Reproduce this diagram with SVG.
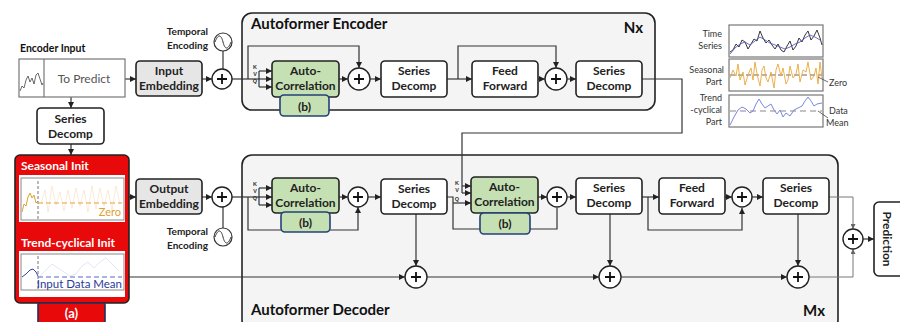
<svg xmlns="http://www.w3.org/2000/svg" width="900" height="322" viewBox="0 0 900 322">
<defs>
<marker id="ah" viewBox="0 0 6 6" refX="6" refY="3" markerWidth="6" markerHeight="6" markerUnits="userSpaceOnUse" orient="auto"><path d="M0,0 L6,3 L0,6 z" fill="#222"/></marker>
<marker id="ahg" viewBox="0 0 6 6" refX="6" refY="3" markerWidth="5" markerHeight="5" markerUnits="userSpaceOnUse" orient="auto"><path d="M0,0 L6,3 L0,6 z" fill="#666"/></marker>
<style>
.lbl{font-family:Lato,"Liberation Sans",sans-serif;font-weight:bold;font-size:12px;fill:#222;text-anchor:middle}
.box{fill:#fff;stroke:#222;stroke-width:1.6}
.emb{fill:#e6e6e6;stroke:#222;stroke-width:1.6}
.ac{fill:#c5e0b3;stroke:#222;stroke-width:1.6}
.bb{fill:#c5e0b3;stroke:#24407a;stroke-width:1.6}
.blk{fill:#f4f4f4;stroke:#222;stroke-width:1.6}
.ln{fill:none;stroke:#333;stroke-width:1.2}
.la{fill:none;stroke:#333;stroke-width:1.2;marker-end:url(#ah)}
.lg{fill:none;stroke:#777;stroke-width:1;marker-end:url(#ahg)}
.pl{fill:#fff;stroke:#222;stroke-width:1.4}
.ps{fill:none;stroke:#111;stroke-width:1.8}
.kvq{font-family:"Liberation Sans",sans-serif;font-weight:bold;font-size:5.5px;fill:#333;text-anchor:middle}
.te{font-family:Lato,"Liberation Sans",sans-serif;font-weight:bold;font-size:10px;fill:#222;text-anchor:end}
.ttl{font-family:Lato,"Liberation Sans",sans-serif;font-weight:bold;font-size:15px;fill:#111}
.leg{font-family:Lato,"Liberation Sans",sans-serif;font-size:9px;fill:#333;text-anchor:end}
.pan{fill:#fff;stroke:#777;stroke-width:1.2}
</style>
</defs>

<!-- Encoder/decoder blocks -->
<g id="encoder-block">
<rect class="blk" x="242" y="13" width="413" height="97" rx="10"/>
<text class="ttl" x="251" y="29">Autoformer Encoder</text>
<text class="ttl" x="643" y="33" text-anchor="end" font-size="13">Nx</text>
</g>
<g id="decoder-block">
<rect class="blk" x="242" y="155" width="596" height="175" rx="10"/>
<text class="ttl" x="251" y="315">Autoformer Decoder</text>
<text class="ttl" x="825" y="316" text-anchor="end" font-size="13">Mx</text>
</g>

<!-- connectors -->
<g id="connectors">
<!-- encoder input -->
<path class="la" d="M125,79 H136"/>
<path class="la" d="M202,79 H212"/>
<path class="ln" d="M223,51 V69"/>
<path class="la" d="M71,97 V108"/>
<path class="la" d="M71,144 V155"/>
<!-- encoder KVQ -->
<path class="ln" d="M232,79 H259"/>
<path class="ln" d="M259,71 V87"/>
<path class="la" d="M259,71 H272"/>
<path class="la" d="M259,79 H272"/>
<path class="la" d="M259,87 H272"/>
<path class="la" d="M248,79 V46 H359 V68"/>
<path class="la" d="M339,79 H348"/>
<path class="la" d="M370,79 H381"/>
<path class="la" d="M447,79 H472"/>
<path class="la" d="M458,79 V46 H556 V68"/>
<path class="la" d="M538,79 H545"/>
<path class="la" d="M567,79 H576"/>
<!-- encoder to decoder -->
<path class="ln" d="M642,79 H682 V133 H462 V193"/>
<path class="la" d="M462,186 H471"/>
<path class="la" d="M462,193 H471"/>
<!-- decoder input -->
<path class="la" d="M129,197 H136"/>
<path class="la" d="M202,197 H212"/>
<path class="ln" d="M223,207 V228"/>
<path class="ln" d="M232,197 H259"/>
<path class="ln" d="M259,188 V205"/>
<path class="la" d="M259,188 H272"/>
<path class="la" d="M259,197 H272"/>
<path class="la" d="M259,205 H272"/>
<path class="la" d="M248,197 V230 H358 V207"/>
<path class="la" d="M339,197 H348"/>
<path class="la" d="M368,197 H381"/>
<path class="ln" d="M447,197 H453 V229 H557 V208"/>
<path class="la" d="M453,203 H471"/>
<path class="la" d="M538,197 H547"/>
<path class="la" d="M567,197 H576"/>
<path class="la" d="M642,197 H659"/>
<path class="la" d="M648,197 V230 H742 V208"/>
<path class="la" d="M725,197 H732"/>
<path class="la" d="M752,197 H763"/>
<!-- trend path -->
<path class="la" d="M416,214 V266"/>
<path class="la" d="M610,214 V266"/>
<path class="la" d="M798,214 V266"/>
<path class="la" d="M125,277 H405"/>
<path class="la" d="M427,277 H599"/>
<path class="la" d="M621,277 H787"/>
<path class="lg" d="M809,277 H853 V249"/>
<path class="lg" d="M829,197 H853 V229"/>
<path class="la" d="M863,239 H874"/>
</g>

<!-- Encoder input -->
<g id="encoder-input">
<text x="20" y="52" font-family="Lato,'Liberation Sans',sans-serif" font-weight="bold" font-size="10.5" fill="#111">Encoder Input</text>
<rect x="19" y="59" width="106" height="38" fill="#fff" stroke="#777" stroke-width="1.2"/>
<line x1="44" y1="59" x2="44" y2="97" stroke="#777" stroke-width="1.2"/>
<polyline points="20,91 22,86 24,88 26,80 28,76 30,82 32,78 34,84 36,75 38,73 40,79 42,85 43,83" fill="none" stroke="#444" stroke-width="0.8"/>
<text x="84" y="83" font-family="Lato,'Liberation Sans',sans-serif" font-size="12" fill="#555" text-anchor="middle">To Predict</text>
</g>

<g id="input-embedding">
<rect class="emb" x="136" y="61" width="66" height="35" rx="4"/>
<text class="lbl" x="169" y="75">Input</text>
<text class="lbl" x="169" y="90">Embedding</text>
</g>
<g id="enc-plus">
<circle class="pl" cx="222" cy="79" r="10"/>
<path class="ps" d="M217,79 H227 M222,74 V84"/>
</g>
<g id="enc-temporal">
<circle cx="223" cy="42" r="9" fill="#fff" stroke="#333" stroke-width="1.2"/>
<path d="M215,42 C218,34 221,34 223,42 C225,50 228,50 231,42" fill="none" stroke="#333" stroke-width="1"/>
<text class="te" x="208" y="35">Temporal</text>
<text class="te" x="208" y="49">Encoding</text>
</g>

<g id="series-decomp-input">
<rect class="box" x="37" y="108" width="67" height="36" rx="4"/>
<text class="lbl" x="70.5" y="123">Series</text>
<text class="lbl" x="70.5" y="138">Decomp</text>
</g>

<!-- (a) init block -->
<g id="init-block">
<rect x="15" y="155" width="114" height="148" rx="5" fill="#e8090a" stroke="#222" stroke-width="1.6"/>
<text x="21" y="170" font-family="Lato,'Liberation Sans',sans-serif" font-weight="bold" font-size="12" fill="#fff">Seasonal Init</text>
<rect x="19" y="175" width="106" height="47" fill="#fff"/>
<rect x="21" y="178" width="103" height="42" fill="#fff" stroke="#888" stroke-width="1"/>
<polyline points="41,204 45,190 48,212 52,186 56,205 60,192 64,211 68,190 72,208 76,188 80,206 84,190 88,212 92,186 96,209 100,188 104,206 108,190 112,210 116,186 120,204" fill="none" stroke="#e8a23c" stroke-width="0.8" opacity="0.25"/>
<polyline points="22,212 24,204 26,206 28,197 30,193 32,198 34,195 36,203 38,201" fill="none" stroke="#e0a030" stroke-width="1"/>
<line x1="38" y1="181" x2="38" y2="219" stroke="#777" stroke-width="1" stroke-dasharray="3,2"/>
<line x1="38" y1="203" x2="122" y2="203" stroke="#e8a23c" stroke-width="1.2" stroke-dasharray="5,3"/>
<text x="121" y="216" font-family="Lato,'Liberation Sans',sans-serif" font-size="11" fill="#e0a030" text-anchor="end">Zero</text>
<text x="21" y="247" font-family="Lato,'Liberation Sans',sans-serif" font-weight="bold" font-size="12" fill="#fff">Trend-cyclical Init</text>
<rect x="19" y="251" width="106" height="46" fill="#fff"/>
<rect x="21" y="254" width="103" height="36" fill="#fff" stroke="#888" stroke-width="1"/>
<polyline points="40,276 46,270 52,264 58,268 64,272 70,276 76,274 82,266 88,262 94,268 100,262 106,258 112,264 118,270" fill="none" stroke="#8899cc" stroke-width="0.8" opacity="0.3"/>
<polyline points="22,277 26,274 30,270 33,269 36,272 38,276" fill="none" stroke="#3344aa" stroke-width="1"/>
<line x1="38" y1="256" x2="38" y2="289" stroke="#777" stroke-width="1" stroke-dasharray="3,2"/>
<line x1="38" y1="277" x2="122" y2="277" stroke="#5566cc" stroke-width="1.2" stroke-dasharray="5,3"/>
<text x="122" y="288" font-family="Lato,'Liberation Sans',sans-serif" font-size="11.5" fill="#2a3a9a" text-anchor="end">Input Data Mean</text>
</g>
<g id="label-a">
<rect x="38" y="303" width="67" height="22" fill="#e8090a" stroke="#1f3060" stroke-width="1.6" rx="2"/>
<text x="71.5" y="318" font-family="Lato,'Liberation Sans',sans-serif" font-weight="bold" font-size="13" fill="#fff" text-anchor="middle">(a)</text>
</g>

<g id="output-embedding">
<rect class="emb" x="136" y="179" width="66" height="35" rx="4"/>
<text class="lbl" x="169" y="193">Output</text>
<text class="lbl" x="169" y="208">Embedding</text>
</g>
<g id="dec-plus">
<circle class="pl" cx="222" cy="197" r="10"/>
<path class="ps" d="M217,197 H227 M222,192 V202"/>
</g>
<g id="dec-temporal">
<circle cx="223" cy="237" r="9" fill="#fff" stroke="#333" stroke-width="1.2"/>
<path d="M215,237 C218,229 221,229 223,237 C225,245 228,245 231,237" fill="none" stroke="#333" stroke-width="1"/>
<text class="te" x="208" y="235">Temporal</text>
<text class="te" x="208" y="249">Encoding</text>
</g>

<!-- Encoder nodes -->
<g id="enc-kvq">
<text class="kvq" x="255" y="69">K</text>
<text class="kvq" x="255" y="76">V</text>
<text class="kvq" x="255" y="83">Q</text>
</g>
<g id="enc-autocorr">
<rect class="ac" x="272" y="61" width="67" height="36" rx="4"/>
<text class="lbl" x="305.5" y="75">Auto-</text>
<text class="lbl" x="305.5" y="90">Correlation</text>
<rect class="bb" x="280" y="95" width="49" height="21" rx="4"/>
<text class="lbl" x="304.5" y="111" font-size="13">(b)</text>
</g>
<g id="enc-plus1"><circle class="pl" cx="359" cy="79" r="11"/><path class="ps" d="M354,79 H364 M359,74 V84"/></g>
<g id="enc-decomp1">
<rect class="box" x="381" y="61" width="66" height="36" rx="4"/>
<text class="lbl" x="414" y="75">Series</text>
<text class="lbl" x="414" y="90">Decomp</text>
</g>
<g id="enc-ff">
<rect class="box" x="472" y="61" width="66" height="36" rx="4"/>
<text class="lbl" x="505" y="75">Feed</text>
<text class="lbl" x="505" y="90">Forward</text>
</g>
<g id="enc-plus2"><circle class="pl" cx="556" cy="79" r="11"/><path class="ps" d="M551,79 H561 M556,74 V84"/></g>
<g id="enc-decomp2">
<rect class="box" x="576" y="61" width="66" height="36" rx="4"/>
<text class="lbl" x="609" y="75">Series</text>
<text class="lbl" x="609" y="90">Decomp</text>
</g>

<!-- Decoder nodes -->
<g id="dec-kvq1">
<text class="kvq" x="255" y="186">K</text>
<text class="kvq" x="255" y="193">V</text>
<text class="kvq" x="255" y="200">Q</text>
</g>
<g id="dec-autocorr1">
<rect class="ac" x="272" y="178" width="67" height="35" rx="4"/>
<text class="lbl" x="305.5" y="192">Auto-</text>
<text class="lbl" x="305.5" y="207">Correlation</text>
<rect class="bb" x="281" y="212" width="49" height="20" rx="4"/>
<text class="lbl" x="305.5" y="227" font-size="13">(b)</text>
</g>
<g id="dec-plus1"><circle class="pl" cx="358" cy="197" r="10"/><path class="ps" d="M353,197 H363 M358,192 V202"/></g>
<g id="dec-decomp1">
<rect class="box" x="381" y="179" width="66" height="35" rx="4"/>
<text class="lbl" x="414" y="193">Series</text>
<text class="lbl" x="414" y="208">Decomp</text>
</g>
<g id="dec-kvq2">
<text class="kvq" x="457" y="185">K</text>
<text class="kvq" x="457" y="192">V</text>
<text class="kvq" x="457" y="201">Q</text>
</g>
<g id="dec-autocorr2">
<rect class="ac" x="471" y="177" width="67" height="36" rx="4"/>
<text class="lbl" x="504.5" y="191">Auto-</text>
<text class="lbl" x="504.5" y="206">Correlation</text>
<rect class="bb" x="480" y="213" width="50" height="21" rx="4"/>
<text class="lbl" x="505" y="228" font-size="13">(b)</text>
</g>
<g id="dec-plus2"><circle class="pl" cx="557" cy="197" r="10"/><path class="ps" d="M552,197 H562 M557,192 V202"/></g>
<g id="dec-decomp2">
<rect class="box" x="576" y="178" width="66" height="36" rx="4"/>
<text class="lbl" x="609" y="192">Series</text>
<text class="lbl" x="609" y="207">Decomp</text>
</g>
<g id="dec-ff">
<rect class="box" x="659" y="178" width="66" height="36" rx="4"/>
<text class="lbl" x="692" y="192">Feed</text>
<text class="lbl" x="692" y="207">Forward</text>
</g>
<g id="dec-plus3"><circle class="pl" cx="742" cy="197" r="10"/><path class="ps" d="M737,197 H747 M742,192 V202"/></g>
<g id="dec-decomp3">
<rect class="box" x="763" y="178" width="66" height="36" rx="4"/>
<text class="lbl" x="796" y="192">Series</text>
<text class="lbl" x="796" y="207">Decomp</text>
</g>
<g id="trend-plus1"><circle class="pl" cx="416" cy="277" r="11"/><path class="ps" d="M411,277 H421 M416,272 V282"/></g>
<g id="trend-plus2"><circle class="pl" cx="610" cy="277" r="11"/><path class="ps" d="M605,277 H615 M610,272 V282"/></g>
<g id="trend-plus3"><circle class="pl" cx="798" cy="277" r="11"/><path class="ps" d="M793,277 H803 M798,272 V282"/></g>
<g id="final-plus"><circle class="pl" cx="853" cy="239" r="10"/><path class="ps" d="M848,239 H858 M853,234 V244"/></g>
<g id="prediction">
<rect class="box" x="874" y="202" width="34" height="74" rx="5"/>
<text class="lbl" x="0" y="0" transform="translate(883,239) rotate(90)" font-size="12.5">Prediction</text>
</g>

<!-- Legend -->
<g id="legend">
<rect class="pan" x="729" y="25" width="94" height="32"/>
<rect class="pan" x="729" y="59" width="94" height="32"/>
<rect class="pan" x="729" y="95" width="94" height="32"/>
<polyline points="730,52 733,50 736,44 739,47 742,40 745,42 748,49 751,44 754,39 757,41 760,31 763,38 766,43 769,40 772,45 775,49 778,44 781,50 784,52 787,46 790,41 793,50 796,46 799,38 802,42 805,35 808,31 811,40 814,36 817,30 820,38 822,45" fill="none" stroke="#222" stroke-width="0.9"/>
<polyline points="730,54 735,48 740,44 745,42 750,45 755,41 760,37 765,40 770,43 775,45 780,47 785,49 790,47 795,44 800,42 805,38 810,35 815,37 820,40" fill="none" stroke="#5560c0" stroke-width="0.9"/>
<line x1="730" y1="75" x2="822" y2="75" stroke="#666" stroke-width="1" stroke-dasharray="5,3"/>
<polyline points="730,78 733,70 736,76 738,64 740,80 743,72 745,85 748,75 751,68 753,80 755,62 757,74 760,86 762,70 764,66 766,78 768,82 771,72 774,88 776,70 778,64 781,76 783,68 786,84 788,80 790,66 793,78 796,74 798,64 800,82 803,70 806,72 808,62 811,80 814,76 816,68 818,84 820,62 822,78" fill="none" stroke="#e8a83a" stroke-width="0.9"/>
<line x1="730" y1="111" x2="822" y2="111" stroke="#888" stroke-width="1.2" stroke-dasharray="6,4"/>
<polyline points="730,125 734,117 738,110 742,107 746,109 750,113 753,111 756,104 759,99 762,104 765,108 768,106 771,104 774,110 777,114 780,110 783,117 786,113 790,116 794,110 798,108 802,106 805,101 808,97 811,101 814,106 817,104 822,103" fill="none" stroke="#7d86e0" stroke-width="1"/>
<text class="leg" x="722" y="37">Time</text>
<text class="leg" x="722" y="49">Series</text>
<text class="leg" x="724" y="73">Seasonal</text>
<text class="leg" x="722" y="85">Part</text>
<text class="leg" x="722" y="101">Trend</text>
<text class="leg" x="722" y="113">-cyclical</text>
<text class="leg" x="722" y="125">Part</text>
<line x1="818" y1="77" x2="828" y2="82" stroke="#444" stroke-width="0.8"/>
<text x="829" y="86" font-family="Lato,'Liberation Sans',sans-serif" font-size="9" fill="#333">Zero</text>
<line x1="818" y1="111" x2="828" y2="118" stroke="#444" stroke-width="0.8"/>
<text x="829" y="114" font-family="Lato,'Liberation Sans',sans-serif" font-size="9" fill="#333">Data</text>
<text x="826" y="126" font-family="Lato,'Liberation Sans',sans-serif" font-size="9" fill="#333">Mean</text>
</g>
</svg>
